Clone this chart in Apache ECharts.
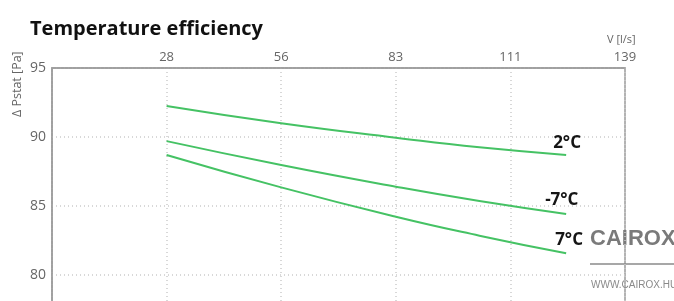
<!DOCTYPE html>
<html><head><meta charset="utf-8">
<script src="https://cdn.jsdelivr.net/npm/echarts@6/dist/echarts.min.js"></script>
<style>html,body{margin:0;padding:0;background:#fff}#c{width:674px;height:301px}</style>
</head><body><div id="c"></div>
<script>
const title = 'Temperature efficiency';
const xValues = [27.75, 55.5, 83.25, 103.5, 124.5];
const series2C = [92.25, 91.0, 89.95, 89.25, 88.7];
const seriesMinus7C = [89.7, 87.97, 86.4, 85.36, 84.42];
const series7C = [88.7, 86.35, 84.22, 82.85, 81.57];
const seriesNames = ['2°C', '-7°C', '7°C'];
const labelOffsets = [[-21, -12], [-29, -14], [-19, -13]];
const xTicks = {min: 0, max: 138.75, interval: 27.75};
const yTicks = {min: 75, max: 95, interval: 5};

const chart = echarts.init(document.getElementById('c'));
const green = '#45c264';
const font = "'Open Sans', 'Noto Sans', sans-serif";
function mk(name, vals, off) {
  return {
    type: 'line', name: name, smooth: true, symbol: 'none',
    data: xValues.map((x, i) => [x, vals[i]]),
    lineStyle: {color: green, width: 2},
    endLabel: {show: true, formatter: '{a}', offset: off, fontSize: 17, fontWeight: 'bold', color: '#151515', fontFamily: font},
    silent: true
  };
}
chart.setOption({
  animation: false,
  title: {text: title, left: 25, top: 14, textStyle: {fontSize: 20, fontWeight: 'bold', color: '#111', fontFamily: font}},
  grid: {left: 52, right: 49, top: 68, height: 276, show: true, borderColor: '#9a9a9a', borderWidth: 1.5, outerBoundsMode: 'none', containLabel: false},
  xAxis: {
    type: 'value', position: 'top', min: xTicks.min, max: xTicks.max, interval: xTicks.interval,
    axisLine: {show: true, lineStyle: {color: '#9a9a9a', width: 1.5}},
    axisTick: {show: false},
    axisLabel: {showMinLabel: false, color: '#666', fontSize: 13, fontFamily: font, margin: 4, formatter: v => Math.round(v)},
    splitLine: {show: true, lineStyle: {color: '#cccccc', type: [1, 3], width: 1.5}}
  },
  yAxis: {
    type: 'value', min: yTicks.min, max: yTicks.max, interval: yTicks.interval,
    axisLine: {show: true, lineStyle: {color: '#9a9a9a', width: 1.5}},
    axisTick: {show: false},
    axisLabel: {color: '#666', fontSize: 14, fontFamily: font, margin: 6, showMaxLabel: true},
    splitLine: {show: true, lineStyle: {color: '#cccccc', type: [1, 3], width: 1.5}}
  },
  series: [
    mk(seriesNames[0], series2C, labelOffsets[0]),
    mk(seriesNames[1], seriesMinus7C, labelOffsets[1]),
    mk(seriesNames[2], series7C, labelOffsets[2])
  ],
  graphic: [
    {type: 'text', rotation: Math.PI / 2, x: 11, y: 117, style: {text: 'Δ Pstat [Pa]', fill: '#666', font: "12.5px 'Open Sans', sans-serif"}},
    {type: 'text', x: 607, y: 34, style: {text: 'V [l/s]', fill: '#666', font: "11px 'Open Sans', sans-serif"}},
    {type: 'text', x: 590, y: 228, style: {text: 'CAIROX', fill: '#7a7a7a', font: "bold 22px 'Liberation Sans', sans-serif"}},
    {type: 'line', shape: {x1: 590, y1: 264, x2: 674, y2: 264}, style: {stroke: '#8a8a8a', lineWidth: 1.5}},
    {type: 'text', x: 591, y: 280, style: {text: 'WWW.CAIROX.HU', fill: '#8a8a8a', font: "10px 'Liberation Sans', sans-serif"}}
  ]
});
</script></body></html>
